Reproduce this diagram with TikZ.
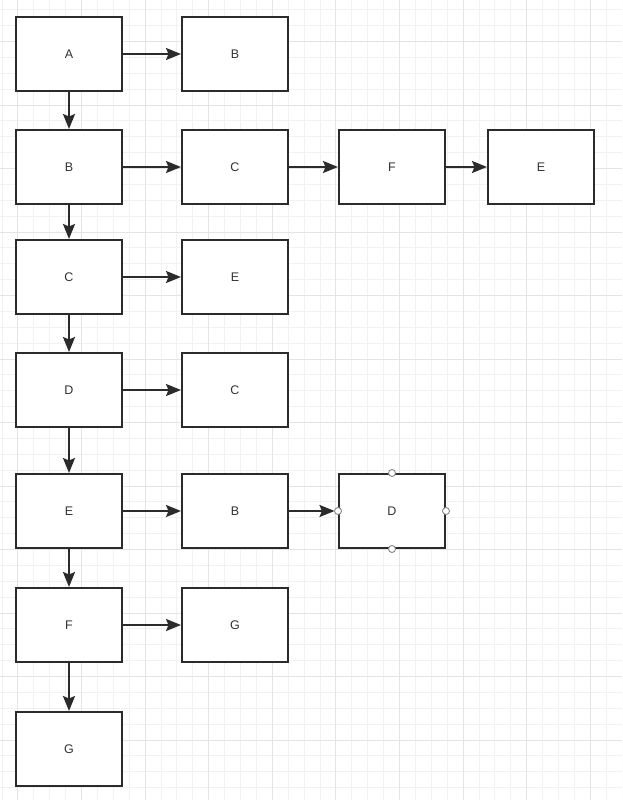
\documentclass[tikz,border=0pt]{standalone}
\usepackage{fontspec}
\setmainfont{Liberation Sans}
\usetikzlibrary{arrows.meta}
\definecolor{minorgrid}{HTML}{F2F2F2}
\definecolor{majorgrid}{HTML}{E4E4E4}
\definecolor{boxline}{HTML}{2B2B2B}
\definecolor{textgray}{HTML}{333333}
\definecolor{portgray}{HTML}{888888}
\begin{document}
\begin{tikzpicture}[x=1pt,y=-1pt,
  box/.style={draw=boxline, line width=2pt, fill=white, minimum width=106pt, minimum height=74pt, inner sep=0pt, font=\fontsize{12.5}{14}\selectfont, text=textgray},
  link/.style={draw=boxline, line width=2pt, -{Stealth[length=15pt,width=12pt,inset=2.5pt]}},
  port/.style={circle, draw=portgray, fill=white, line width=0.9pt, minimum size=7pt, inner sep=0pt}]
\useasboundingbox (0,0) rectangle (622,800);
\fill[white] (0,0) rectangle (622,800);
% grid
\begin{scope}
\clip (0,0) rectangle (622,800);
\foreach \k in {0,...,39} \draw[minorgrid, line width=0.8pt] ({1.9+\k*15.9},0) -- ({1.9+\k*15.9},800);
\foreach \k in {0,...,50} \draw[minorgrid, line width=0.8pt] (0,{9.75+\k*15.875}) -- (622,{9.75+\k*15.875});
\foreach \k in {0,...,9} \draw[majorgrid, line width=1pt] ({17.8+\k*63.6},0) -- ({17.8+\k*63.6},800);
\foreach \k in {0,...,12} \draw[majorgrid, line width=1pt] (0,{41.5+\k*63.5}) -- (622,{41.5+\k*63.5});
\end{scope}
% column 1
\node[box] (a1) at (69,54) {A};
\node[box] (b1) at (69,167) {B};
\node[box] (c1) at (69,277) {C};
\node[box] (d1) at (69,390) {D};
\node[box] (e1) at (69,511) {E};
\node[box] (f1) at (69,625) {F};
\node[box] (g1) at (69,749) {G};
% other columns
\node[box] (r1b) at (235,54) {B};
\node[box] (r2c) at (235,167) {C};
\node[box] (r2f) at (392,167) {F};
\node[box] (r2e) at (541,167) {E};
\node[box] (r3e) at (235,277) {E};
\node[box] (r4c) at (235,390) {C};
\node[box] (r5b) at (235,511) {B};
\node[box] (r5d) at (392,511) {D};
\node[box] (r6g) at (235,625) {G};
% vertical links
\draw[link] (a1.south) -- (b1.north);
\draw[link] (b1.south) -- (c1.north);
\draw[link] (c1.south) -- (d1.north);
\draw[link] (d1.south) -- (e1.north);
\draw[link] (e1.south) -- (f1.north);
\draw[link] (f1.south) -- (g1.north);
% horizontal links
\draw[link] (a1.east) -- (r1b.west);
\draw[link] (b1.east) -- (r2c.west);
\draw[link] (r2c.east) -- (r2f.west);
\draw[link] (r2f.east) -- (r2e.west);
\draw[link] (c1.east) -- (r3e.west);
\draw[link] (d1.east) -- (r4c.west);
\draw[link] (e1.east) -- (r5b.west);
\draw[link] (r5b.east) -- ([xshift=-3.5pt]r5d.west);
\draw[link] (f1.east) -- (r6g.west);
% connection ports on selected D
\node[port] (pn) at (r5d.north) {};
\node[port] (ps) at (r5d.south) {};
\node[port] (pw) at (r5d.west) {};
\node[port] (pe) at (r5d.east) {};
\end{tikzpicture}
\end{document}
